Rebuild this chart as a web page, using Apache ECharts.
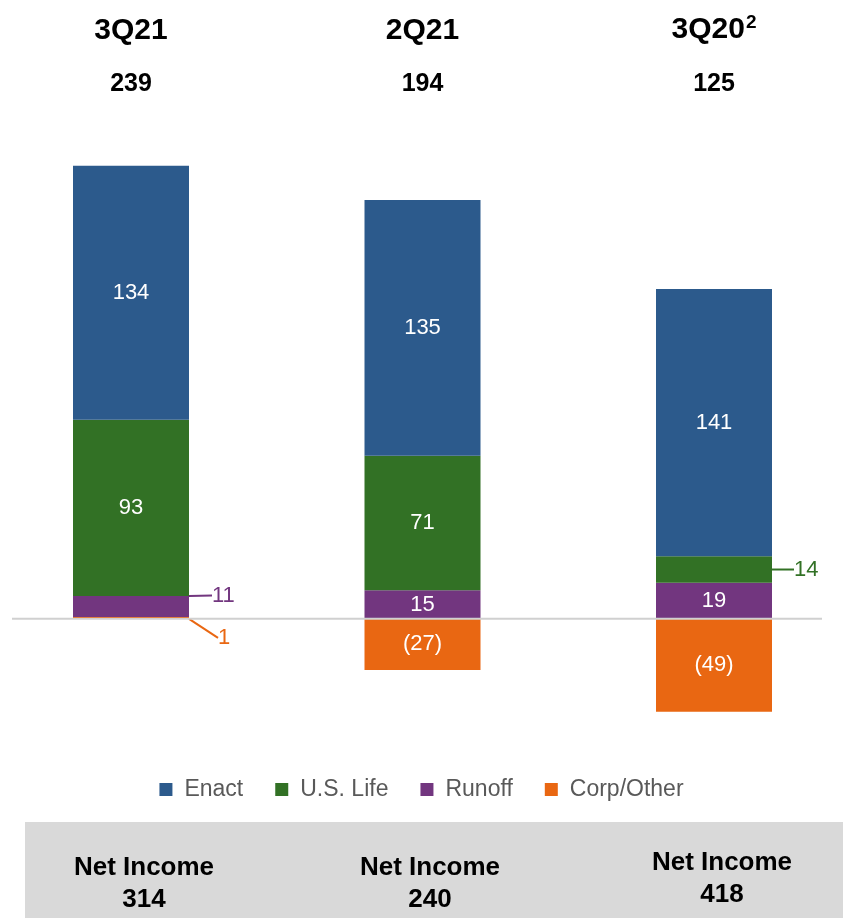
<!DOCTYPE html>
<html>
<head>
<meta charset="utf-8">
<script src="https://cdn.jsdelivr.net/npm/echarts@6/dist/echarts.min.js"></script>
<style>
  html, body { margin: 0; padding: 0; background: #fff; }
  #chart { width: 843px; height: 918px; }
</style>
</head>
<body>
<div id="chart"></div>
<script>
var quarters = ['3Q21', '2Q21', '3Q20'];
var footnotes = ['', '', '2'];
var totals = [239, 194, 125];
var netIncome = [314, 240, 418];

var enact = [134, 135, 141];
var usLife = [93, 71, 14];
var runoff = [11, 15, 19];
var corpOther = [1, -27, -49];

var chart = echarts.init(document.getElementById('chart'));
var font = '"Liberation Sans", Arial, sans-serif';

// 小数值的标签放在柱子外面，带引线
var outside = {
  'Runoff-0': { color: '#72367f', dx: 23, dy: -11 },
  'Corp/Other-0': { color: '#e96712', dx: 29, dy: 20 },
  'U.S. Life-2': { color: '#327125', dx: 22, dy: 0 }
};

function fmt(v) {
  return v < 0 ? '(' + Math.abs(v) + ')' : String(v);
}

function makeSeries(name, values, color) {
  return {
    name: name,
    type: 'bar',
    stack: 'seg',
    barWidth: 116,
    clip: false,
    itemStyle: { color: color },
    data: values.map(function (v, i) {
      var o = outside[name + '-' + i];
      var item = { value: v };
      if (o) {
        item.label = {
          show: true,
          position: 'right',
          distance: o.dx,
          offset: [0, o.dy],
          color: o.color
        };
        item.labelLine = { show: true, lineStyle: { color: o.color, width: 2 } };
      }
      return item;
    }),
    label: {
      show: true,
      position: 'inside',
      color: '#fff',
      fontSize: 22,
      fontFamily: font,
      formatter: function (p) { return fmt(p.value); }
    },
    labelLine: { show: false }
  };
}

var option = {
  animation: false,
  grid: { left: 131, right: 129, top: 145, bottom: 185.5 },
  xAxis: [{
    type: 'category',
    position: 'top',
    offset: 91,
    boundaryGap: false,
    data: quarters,
    axisLine: { show: false },
    axisTick: { show: false },
    axisLabel: {
      interval: 0,
      margin: 8,
      formatter: function (v, i) {
        return footnotes[i] ? '{n|' + v + '}{s|' + footnotes[i] + '}' : '{n|' + v + '}';
      },
      rich: {
        n: { fontSize: 30, fontWeight: 'bold', color: '#000', fontFamily: font },
        s: { fontSize: 19, fontWeight: 'bold', color: '#000', fontFamily: font, padding: [0, 0, 14, 1] }
      }
    }
  }, {
    type: 'category',
    position: 'top',
    offset: 40,
    boundaryGap: false,
    data: totals.map(String),
    axisLine: { show: false },
    axisTick: { show: false },
    axisLabel: {
      interval: 0,
      margin: 8,
      fontSize: 25,
      fontWeight: 'bold',
      color: '#000',
      fontFamily: font
    }
  }],
  yAxis: {
    type: 'value',
    min: -60,
    max: 250,
    show: false,
    splitLine: { show: false }
  },
  legend: {
    data: ['Enact', 'U.S. Life', 'Runoff', 'Corp/Other'],
    left: 'center',
    top: 773,
    icon: 'rect',
    itemWidth: 13,
    itemHeight: 13,
    itemGap: 32,
    textStyle: { fontSize: 23, color: '#595959', fontFamily: font, padding: [0, 0, 0, 7] }
  },
  series: [
    makeSeries('Corp/Other', corpOther, '#e96712'),
    makeSeries('Runoff', runoff, '#72367f'),
    makeSeries('U.S. Life', usLife, '#327125'),
    makeSeries('Enact', enact, '#2c5a8c')
  ]
};

chart.setOption(option);

// 零线和底部净利润栏
var zeroY = chart.convertToPixel({ yAxisIndex: 0 }, 0);
var niX = [144, 430, 722];
var niY = [884, 884, 879];
var graphics = [{
  type: 'line',
  shape: { x1: 12, y1: zeroY, x2: 822, y2: zeroY },
  style: { stroke: '#d0d0d0', lineWidth: 2 },
  z: 10
}, {
  type: 'rect',
  shape: { x: 25, y: 822, width: 818, height: 96 },
  style: { fill: '#d9d9d9' }
}];
netIncome.forEach(function (v, i) {
  graphics.push({
    type: 'text',
    x: niX[i],
    y: niY[i],
    style: {
      text: 'Net Income\n' + v,
      align: 'center',
      verticalAlign: 'middle',
      fontSize: 26,
      fontWeight: 'bold',
      lineHeight: 32,
      fontFamily: font,
      fill: '#000'
    }
  });
});
chart.setOption({ graphic: graphics });
</script>
</body>
</html>
